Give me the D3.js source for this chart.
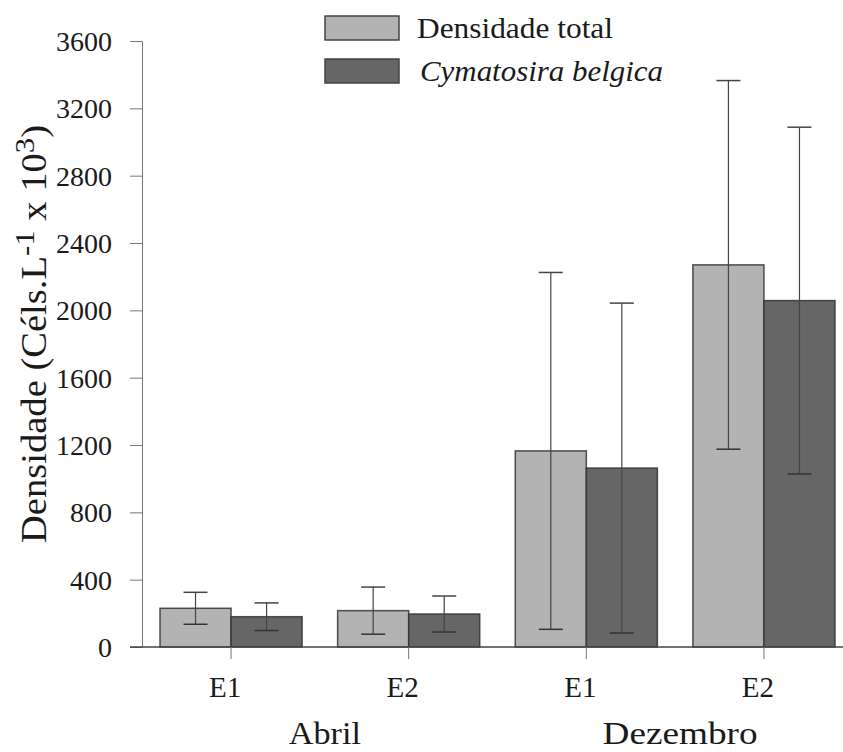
<!DOCTYPE html>
<html>
<head>
<meta charset="utf-8">
<script src="https://cdn.jsdelivr.net/npm/d3@7/dist/d3.min.js"></script>
<style>
  html, body { margin: 0; padding: 0; background: #fff; }
  svg { display: block; }
  text { font-family: "Liberation Serif", "DejaVu Serif", serif; fill: #1a1a1a; }
</style>
</head>
<body>
<svg id="chart" width="843" height="752"></svg>
<script>
// Stations within each sampling month
const stations = ["E1", "E2", "E1", "E2"];
const months = ["Abril", "Dezembro"];
const seriesNames = ["Densidade total", "Cymatosira belgica"];

// Mean densities (Céls.L-1 x 10^3) and standard deviations
const totalMean = [230, 216, 1165, 2270];
const totalSD   = [95, 140, 1060, 1095];
const cymMean   = [180, 196, 1063, 2058];
const cymSD     = [82, 107, 980, 1030];

const yTicks = [0, 400, 800, 1200, 1600, 2000, 2400, 2800, 3200, 3600];

const fills = ["#b3b3b3", "#666666"];

const svg = d3.select("#chart");

const y = d3.scaleLinear().domain([0, 3600]).range([647, 41]);

const x0 = d3.scaleBand()
  .domain(d3.range(stations.length))
  .range([160, 835])
  .paddingInner(0.2)
  .paddingOuter(0);

const x1 = d3.scaleBand()
  .domain(d3.range(seriesNames.length))
  .range([0, x0.bandwidth()]);

const rows = stations.map((s, i) => ({
  i,
  values: [
    { s: 0, mean: totalMean[i], sd: totalSD[i] },
    { s: 1, mean: cymMean[i], sd: cymSD[i] }
  ]
}));

// Y axis
const yAxis = d3.axisLeft(y).tickValues(yTicks).tickSize(12).tickPadding(18).tickFormat(d3.format("d"));
const gy = svg.append("g").attr("transform", "translate(142,0)").call(yAxis);
gy.select(".domain").attr("stroke", "#777").attr("stroke-width", 1);
gy.selectAll(".tick line").attr("stroke", "#777");
gy.selectAll(".tick text")
  .attr("font-size", 28)
  .attr("fill", "#1a1a1a")
  .attr("dy", "0.34em");

// Bars
const groups = svg.append("g").selectAll("g")
  .data(rows).join("g")
  .attr("transform", d => `translate(${x0(d.i)},0)`);

groups.selectAll("rect")
  .data(d => d.values).join("rect")
  .attr("x", d => x1(d.s))
  .attr("width", x1.bandwidth())
  .attr("y", d => y(d.mean))
  .attr("height", d => y(0) - y(d.mean))
  .attr("fill", d => fills[d.s])
  .attr("stroke", "#333")
  .attr("stroke-opacity", 0.85)
  .attr("stroke-width", 1.5);

// Error bars
const capHalf = 12;
const eb = groups.selectAll("g.err")
  .data(d => d.values).join("g")
  .attr("class", "err")
  .attr("transform", d => `translate(${x1(d.s) + x1.bandwidth() / 2},0)`);

eb.append("line")
  .attr("y1", d => y(d.mean + d.sd))
  .attr("y2", d => y(d.mean - d.sd))
  .attr("stroke", "#444")
  .attr("stroke-width", 1.2);
eb.append("line")
  .attr("x1", -capHalf).attr("x2", capHalf)
  .attr("y1", d => y(d.mean + d.sd)).attr("y2", d => y(d.mean + d.sd))
  .attr("stroke", "#444").attr("stroke-width", 1.5);
eb.append("line")
  .attr("x1", -capHalf).attr("x2", capHalf)
  .attr("y1", d => y(d.mean - d.sd)).attr("y2", d => y(d.mean - d.sd))
  .attr("stroke", "#333").attr("stroke-width", 1.5);

// X axis baseline and ticks
svg.append("line")
  .attr("x1", 130).attr("x2", 843)
  .attr("y1", y(0)).attr("y2", y(0))
  .attr("stroke", "#444").attr("stroke-width", 1.5);

const xTicks = svg.append("g").selectAll("g")
  .data(rows).join("g")
  .attr("transform", d => `translate(${x0(d.i) + x0.bandwidth() / 2},${y(0)})`);
xTicks.append("line").attr("y1", 0).attr("y2", 12).attr("stroke", "#777");
xTicks.append("text")
  .attr("x", -6).attr("y", 50)
  .attr("text-anchor", "middle")
  .attr("font-size", 29)
  .text(d => stations[d.i]);

// Month labels under each pair of stations
const monthWidths = [72, 155];
months.forEach((m, k) => {
  const a = x0(2 * k) + x0.bandwidth() / 2;
  const b = x0(2 * k + 1) + x0.bandwidth() / 2;
  svg.append("text")
    .attr("x", (a + b) / 2 + 5)
    .attr("y", 744)
    .attr("text-anchor", "middle")
    .attr("font-size", 32)
    .attr("textLength", monthWidths[k])
    .attr("lengthAdjust", "spacingAndGlyphs")
    .text(m);
});

// Y axis title
const yt = svg.append("text")
  .attr("transform", "translate(46,334) rotate(-90)")
  .attr("text-anchor", "middle")
  .attr("font-size", 35)
  .attr("textLength", 418)
  .attr("lengthAdjust", "spacingAndGlyphs");
yt.append("tspan").text("Densidade (Céls.L");
yt.append("tspan").attr("font-size", 28).attr("dy", -12).text("-1");
yt.append("tspan").attr("dy", 12).text(" x 10");
yt.append("tspan").attr("font-size", 28).attr("dy", -12).text("3");
yt.append("tspan").attr("dy", 12).text(")");

// Legend
const legendWidths = [196, 243];
const legend = svg.append("g");
seriesNames.forEach((name, k) => {
  const top = 16 + k * 43;
  legend.append("rect")
    .attr("x", 325).attr("y", top)
    .attr("width", 74).attr("height", 24)
    .attr("fill", fills[k])
    .attr("stroke", "#444").attr("stroke-width", 1.5);
  legend.append("text")
    .attr("x", k === 1 ? 420 : 417).attr("y", top + 22)
    .attr("font-size", 29)
    .attr("font-style", k === 1 ? "italic" : "normal")
    .attr("textLength", legendWidths[k])
    .attr("lengthAdjust", "spacingAndGlyphs")
    .text(name);
});
</script>
</body>
</html>
